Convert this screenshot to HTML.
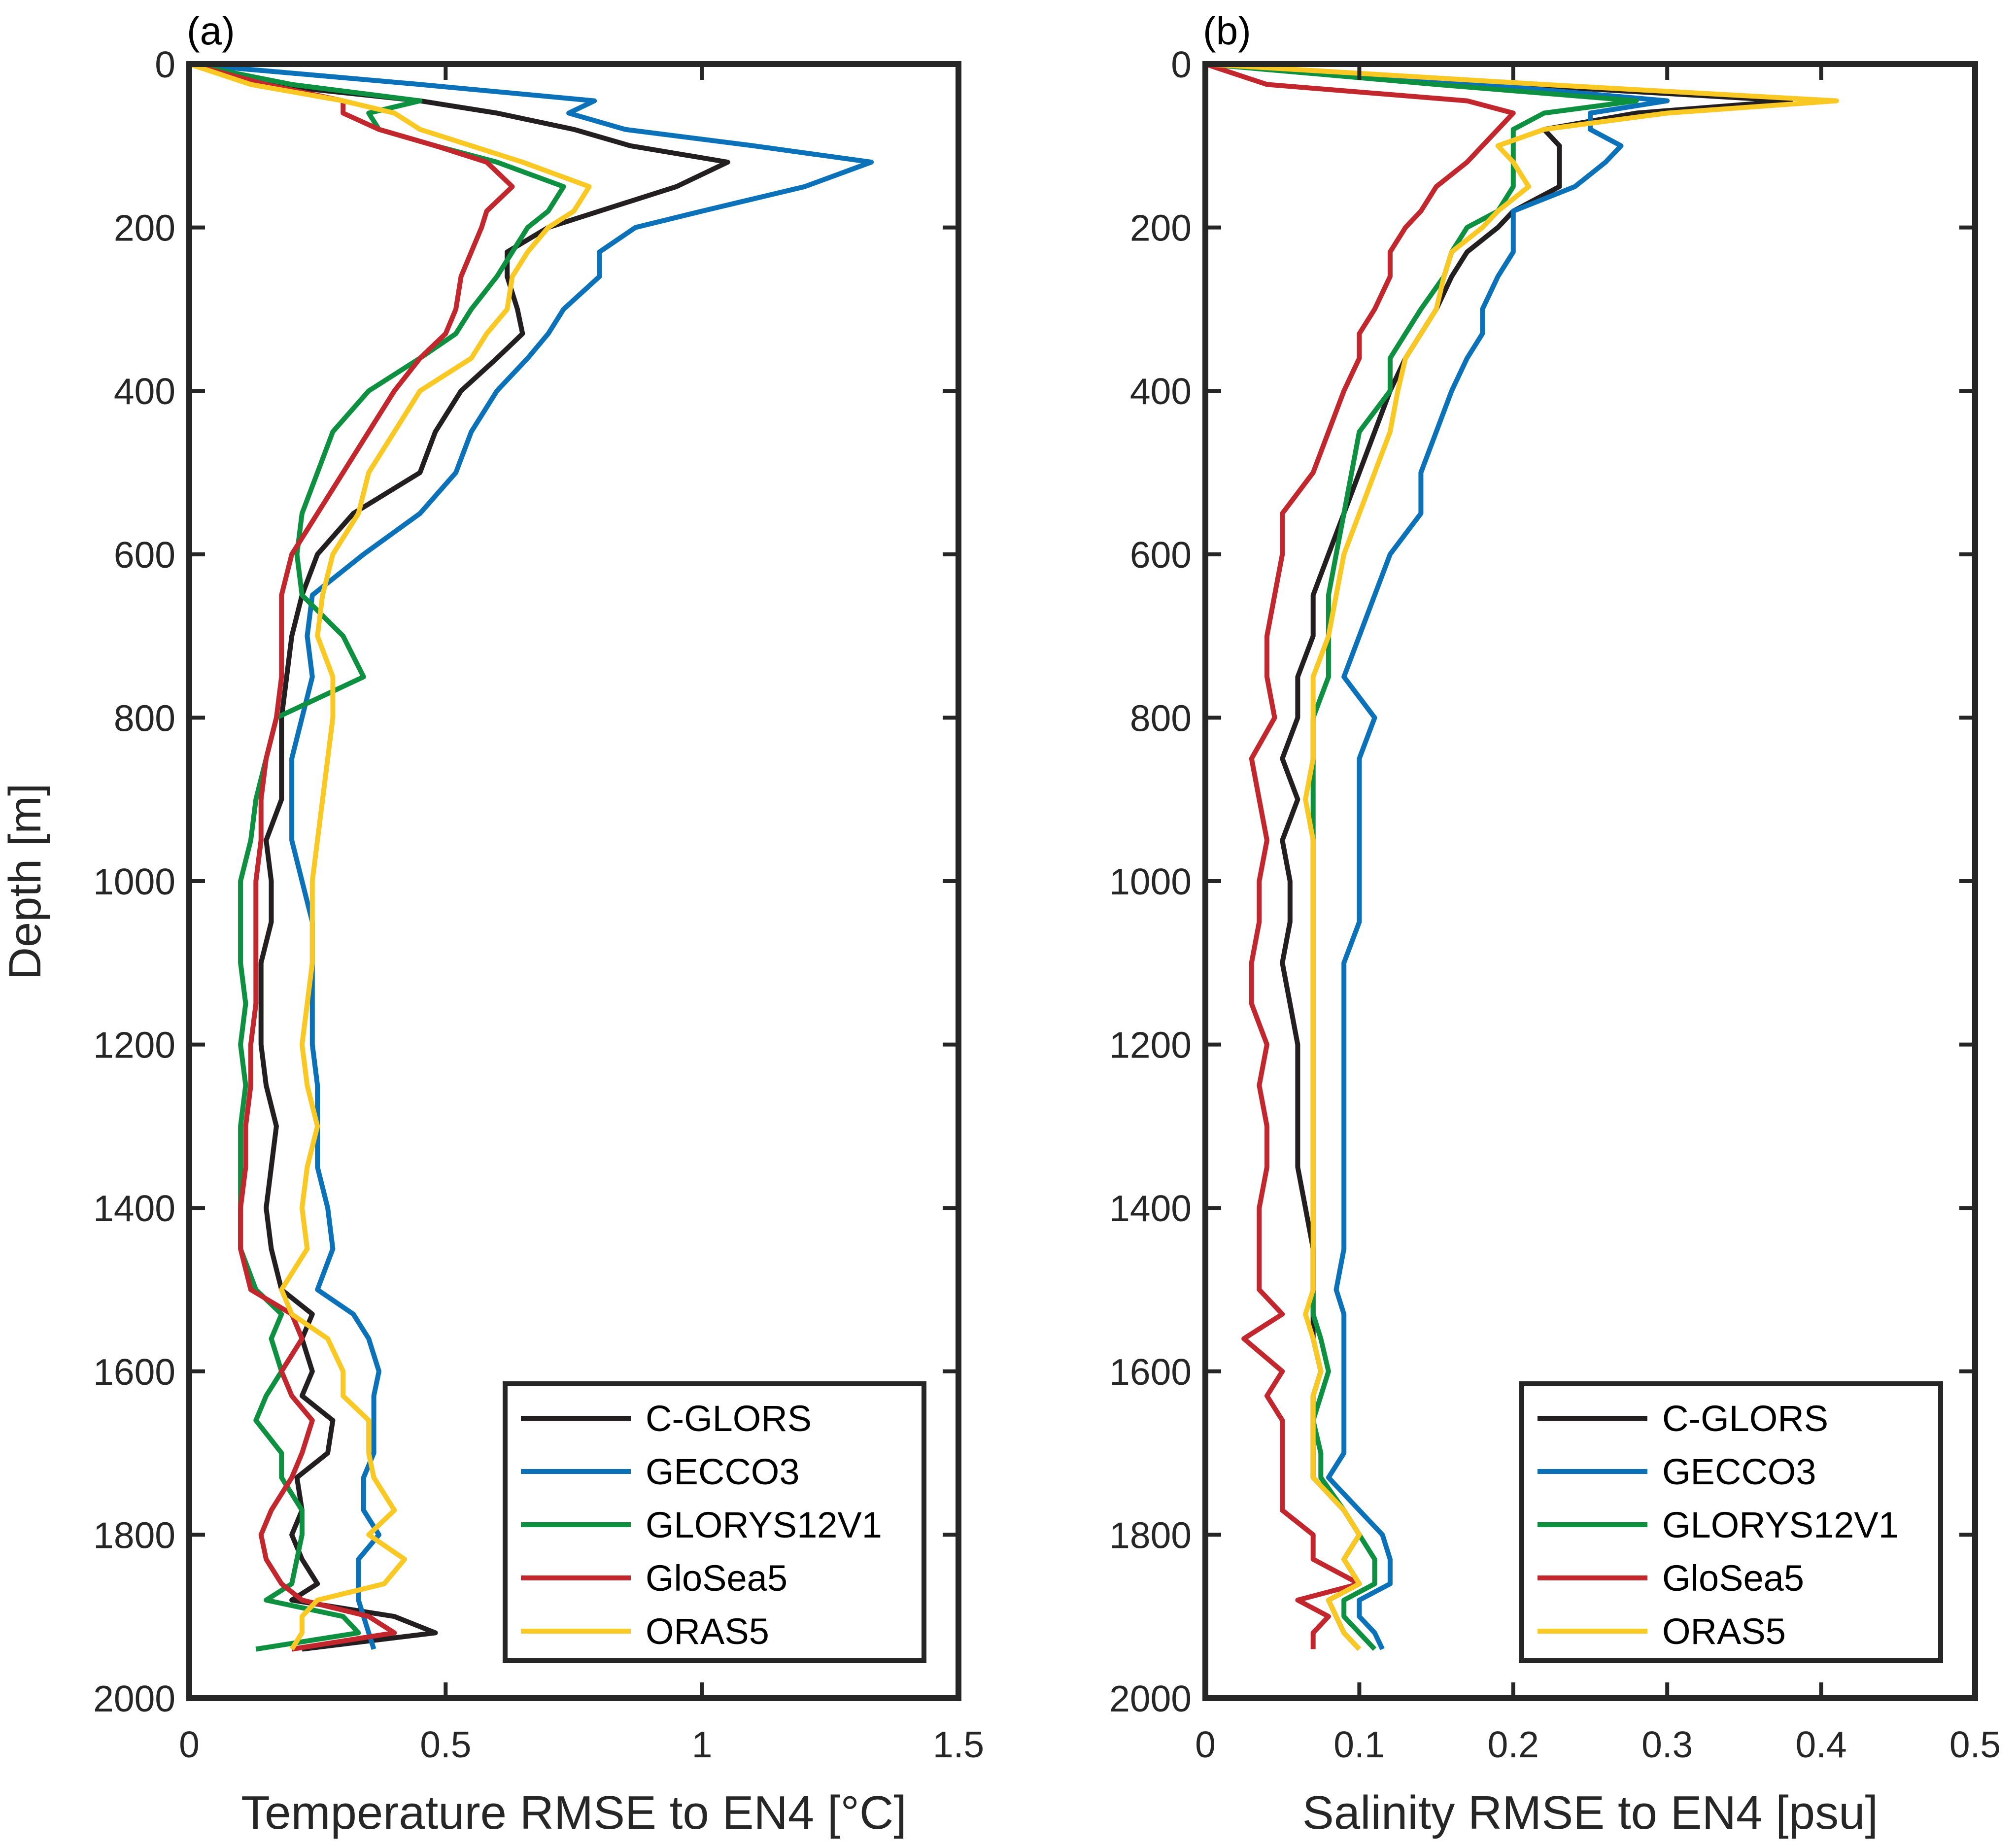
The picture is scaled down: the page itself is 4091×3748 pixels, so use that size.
<!DOCTYPE html>
<html><head><meta charset="utf-8"><style>
html,body{margin:0;padding:0;background:#fff}
svg{display:block;font-family:"Liberation Sans",Arial,sans-serif}
</style></head><body>
<svg id="chart" width="4091" height="3748" viewBox="0 0 4091 3748" xmlns="http://www.w3.org/2000/svg">
<rect width="4091" height="3748" fill="#fff"/>
</svg>
<script>
const depths=[0,25,45,60,80,100,120,150,180,200,230,260,300,330,360,400,450,500,550,600,650,700,750,800,850,900,950,1000,1050,1100,1150,1200,1250,1300,1350,1400,1450,1500,1530,1560,1600,1630,1660,1700,1730,1770,1800,1830,1860,1880,1900,1920,1940];
const seriesNames=["C-GLORS","GECCO3","GLORYS12V1","GloSea5","ORAS5"];
const seriesColors=["#231f20","#0b72b9","#0d9040","#c1272d","#f9c823"];
const tempCGLORS=[0,0.15,0.45,0.6,0.75,0.86,1.05,0.95,0.8,0.7,0.62,0.62,0.64,0.65,0.6,0.53,0.48,0.45,0.32,0.25,0.22,0.2,0.19,0.18,0.18,0.18,0.15,0.16,0.16,0.14,0.14,0.14,0.15,0.17,0.16,0.15,0.16,0.18,0.24,0.22,0.24,0.22,0.28,0.27,0.21,0.22,0.2,0.22,0.25,0.2,0.4,0.48,0.22];
const tempGECCO3=[0,0.45,0.79,0.74,0.85,1.1,1.33,1.2,1.0,0.87,0.8,0.8,0.73,0.7,0.66,0.6,0.55,0.52,0.45,0.34,0.24,0.23,0.24,0.22,0.2,0.2,0.2,0.22,0.24,0.24,0.24,0.24,0.25,0.25,0.25,0.27,0.28,0.25,0.32,0.35,0.37,0.36,0.36,0.36,0.34,0.34,0.37,0.33,0.33,0.33,0.34,0.35,0.36];
const tempGLORYS=[0,0.2,0.45,0.35,0.37,0.48,0.6,0.73,0.7,0.66,0.63,0.6,0.55,0.52,0.45,0.35,0.28,0.25,0.22,0.21,0.22,0.3,0.34,0.17,0.15,0.13,0.12,0.1,0.1,0.1,0.11,0.1,0.11,0.1,0.1,0.1,0.1,0.13,0.18,0.16,0.18,0.15,0.13,0.18,0.18,0.22,0.22,0.21,0.2,0.15,0.3,0.33,0.13];
const tempGloSea5=[0,0.15,0.3,0.3,0.37,0.48,0.58,0.63,0.58,0.57,0.55,0.53,0.52,0.5,0.45,0.4,0.35,0.3,0.25,0.2,0.18,0.18,0.18,0.17,0.15,0.14,0.14,0.13,0.13,0.13,0.13,0.12,0.12,0.11,0.11,0.1,0.1,0.12,0.2,0.22,0.18,0.2,0.24,0.22,0.2,0.16,0.14,0.15,0.18,0.22,0.35,0.4,0.2];
const tempORAS5=[0,0.12,0.3,0.4,0.45,0.55,0.65,0.78,0.75,0.7,0.66,0.63,0.62,0.58,0.55,0.45,0.4,0.35,0.33,0.28,0.26,0.25,0.28,0.28,0.27,0.26,0.25,0.24,0.24,0.24,0.23,0.22,0.23,0.25,0.23,0.22,0.23,0.18,0.2,0.27,0.3,0.3,0.35,0.35,0.36,0.4,0.35,0.42,0.38,0.25,0.22,0.22,0.2];
const salCGLORS=[0,0.2,0.38,0.28,0.22,0.23,0.23,0.23,0.2,0.19,0.17,0.16,0.15,0.14,0.13,0.12,0.11,0.1,0.09,0.08,0.07,0.07,0.06,0.06,0.05,0.06,0.05,0.055,0.055,0.05,0.055,0.06,0.06,0.06,0.06,0.065,0.07,0.07,0.07,0.07,0.075,0.07,0.07,0.07,0.07,0.09,0.1,0.09,0.1,0.08,0.085,0.09,0.1];
const salGECCO3=[0,0.18,0.3,0.25,0.25,0.27,0.26,0.24,0.2,0.2,0.2,0.19,0.18,0.18,0.17,0.16,0.15,0.14,0.14,0.12,0.11,0.1,0.09,0.11,0.1,0.1,0.1,0.1,0.1,0.09,0.09,0.09,0.09,0.09,0.09,0.09,0.09,0.085,0.09,0.09,0.09,0.09,0.09,0.09,0.08,0.1,0.115,0.12,0.12,0.1,0.1,0.11,0.115];
const salGLORYS=[0,0.15,0.28,0.22,0.2,0.2,0.2,0.2,0.19,0.17,0.16,0.155,0.14,0.13,0.12,0.12,0.1,0.095,0.09,0.085,0.08,0.08,0.08,0.07,0.07,0.07,0.07,0.07,0.07,0.07,0.07,0.07,0.07,0.07,0.07,0.07,0.07,0.07,0.07,0.075,0.08,0.075,0.07,0.075,0.075,0.09,0.1,0.11,0.11,0.09,0.09,0.1,0.11];
const salGloSea5=[0,0.04,0.17,0.2,0.19,0.18,0.17,0.15,0.14,0.13,0.12,0.12,0.11,0.1,0.1,0.09,0.08,0.07,0.05,0.05,0.045,0.04,0.04,0.045,0.03,0.035,0.04,0.035,0.035,0.03,0.03,0.04,0.035,0.04,0.04,0.035,0.035,0.035,0.05,0.025,0.05,0.04,0.05,0.05,0.05,0.05,0.07,0.07,0.1,0.06,0.08,0.07,0.07];
const salORAS5=[0,0.22,0.41,0.3,0.22,0.19,0.2,0.21,0.19,0.18,0.16,0.155,0.15,0.14,0.13,0.125,0.12,0.11,0.1,0.09,0.085,0.08,0.07,0.07,0.07,0.065,0.07,0.07,0.07,0.07,0.07,0.07,0.07,0.07,0.07,0.07,0.07,0.07,0.065,0.07,0.075,0.07,0.07,0.07,0.07,0.09,0.1,0.09,0.1,0.08,0.085,0.09,0.1];
const depthTicks=[0,200,400,600,800,1000,1200,1400,1600,1800,2000];
const tempTicks=[0,0.5,1,1.5];
const salTicks=[0,0.1,0.2,0.3,0.4,0.5];

const NS="http://www.w3.org/2000/svg";
const svg=document.getElementById('chart');
function mk(tag,attrs,parent){const e=document.createElementNS(NS,tag);for(const k in attrs)e.setAttribute(k,attrs[k]);(parent||svg).appendChild(e);return e;}
const TOP=130,BOT=3446;
const yScale=d=>TOP+d/2000*(BOT-TOP);

function panel(id,L,R,xmax,xticks,series,xlabel,letter){
  const xScale=v=>L+v/xmax*(R-L);
  const g=mk('g',{});
  
  
  const cp=mk('clipPath',{id:'clip-'+id},g);
  mk('rect',{x:L,y:TOP,width:R-L,height:BOT-TOP},cp);
  const lines=mk('g',{'clip-path':'url(#clip-'+id+')'},g);
  series.forEach((vals,i)=>{
    const pts=vals.map((v,j)=>xScale(v).toFixed(1)+','+yScale(depths[j]).toFixed(1)).join(' ');
    const pl=mk('polyline',{points:pts,fill:'none',stroke:seriesColors[i],'stroke-width':10,'stroke-linejoin':'round'},lines);
    
    
  });
  depthTicks.forEach(d=>{
    const y=yScale(d);
    mk('line',{x1:L,x2:L+32,y1:y,y2:y,stroke:'#262626','stroke-width':8},g);
    mk('line',{x1:R,x2:R-32,y1:y,y2:y,stroke:'#262626','stroke-width':8},g);
    const t=mk('text',{x:L-28,y:y+27,'text-anchor':'end','font-size':75,fill:'#262626'},g);
    t.textContent=d;
    
    
  });
  xticks.forEach(v=>{
    const x=xScale(v);
    mk('line',{x1:x,x2:x,y1:BOT,y2:BOT-32,stroke:'#262626','stroke-width':8},g);
    mk('line',{x1:x,x2:x,y1:TOP,y2:TOP+32,stroke:'#262626','stroke-width':8},g);
    const t=mk('text',{x:x,y:BOT+120,'text-anchor':'middle','font-size':75,fill:'#262626'},g);
    t.textContent=v;
    
    
  });
  const fr=mk('rect',{x:L,y:TOP,width:R-L,height:BOT-TOP,fill:'none',stroke:'#262626','stroke-width':12},g);
  
  
  const xl=mk('text',{x:(L+R)/2,y:BOT+265,'text-anchor':'middle','font-size':96,fill:'#262626'},g);
  xl.textContent=xlabel;
  
  
  const pl=mk('text',{x:L-5,y:TOP-40,'font-size':80,fill:'#000'},g);
  pl.textContent=letter;
  
  
  const lw=850, ly=2808, lh=562;
  const lg=mk('g',{},g);
  
  
  const x0=R-70-lw;
  mk('rect',{x:x0,y:ly,width:lw,height:lh,fill:'#fff',stroke:'#262626','stroke-width':10},lg);
  seriesNames.forEach((n,i)=>{
    const y=2878+i*108;
    mk('line',{x1:x0+32,x2:x0+255,y1:y,y2:y,stroke:seriesColors[i],'stroke-width':10},lg);
    const t=mk('text',{x:x0+285,y:y+26,'font-size':74,fill:'#000'},lg);
    t.textContent=n;
    
    
  });
}
panel('a',384,1945,1.5,tempTicks,[tempCGLORS,tempGECCO3,tempGLORYS,tempGloSea5,tempORAS5],'Temperature RMSE to EN4 [\u00B0C]','(a)');
panel('b',2446,4008,0.5,salTicks,[salCGLORS,salGECCO3,salGLORYS,salGloSea5,salORAS5],'Salinity RMSE to EN4 [psu]','(b)');
const yl=mk('text',{x:0,y:0,'text-anchor':'middle','font-size':92,fill:'#262626',transform:'translate(82,1789) rotate(-90)'});
yl.textContent='Depth [m]';


</script>
</body></html>
